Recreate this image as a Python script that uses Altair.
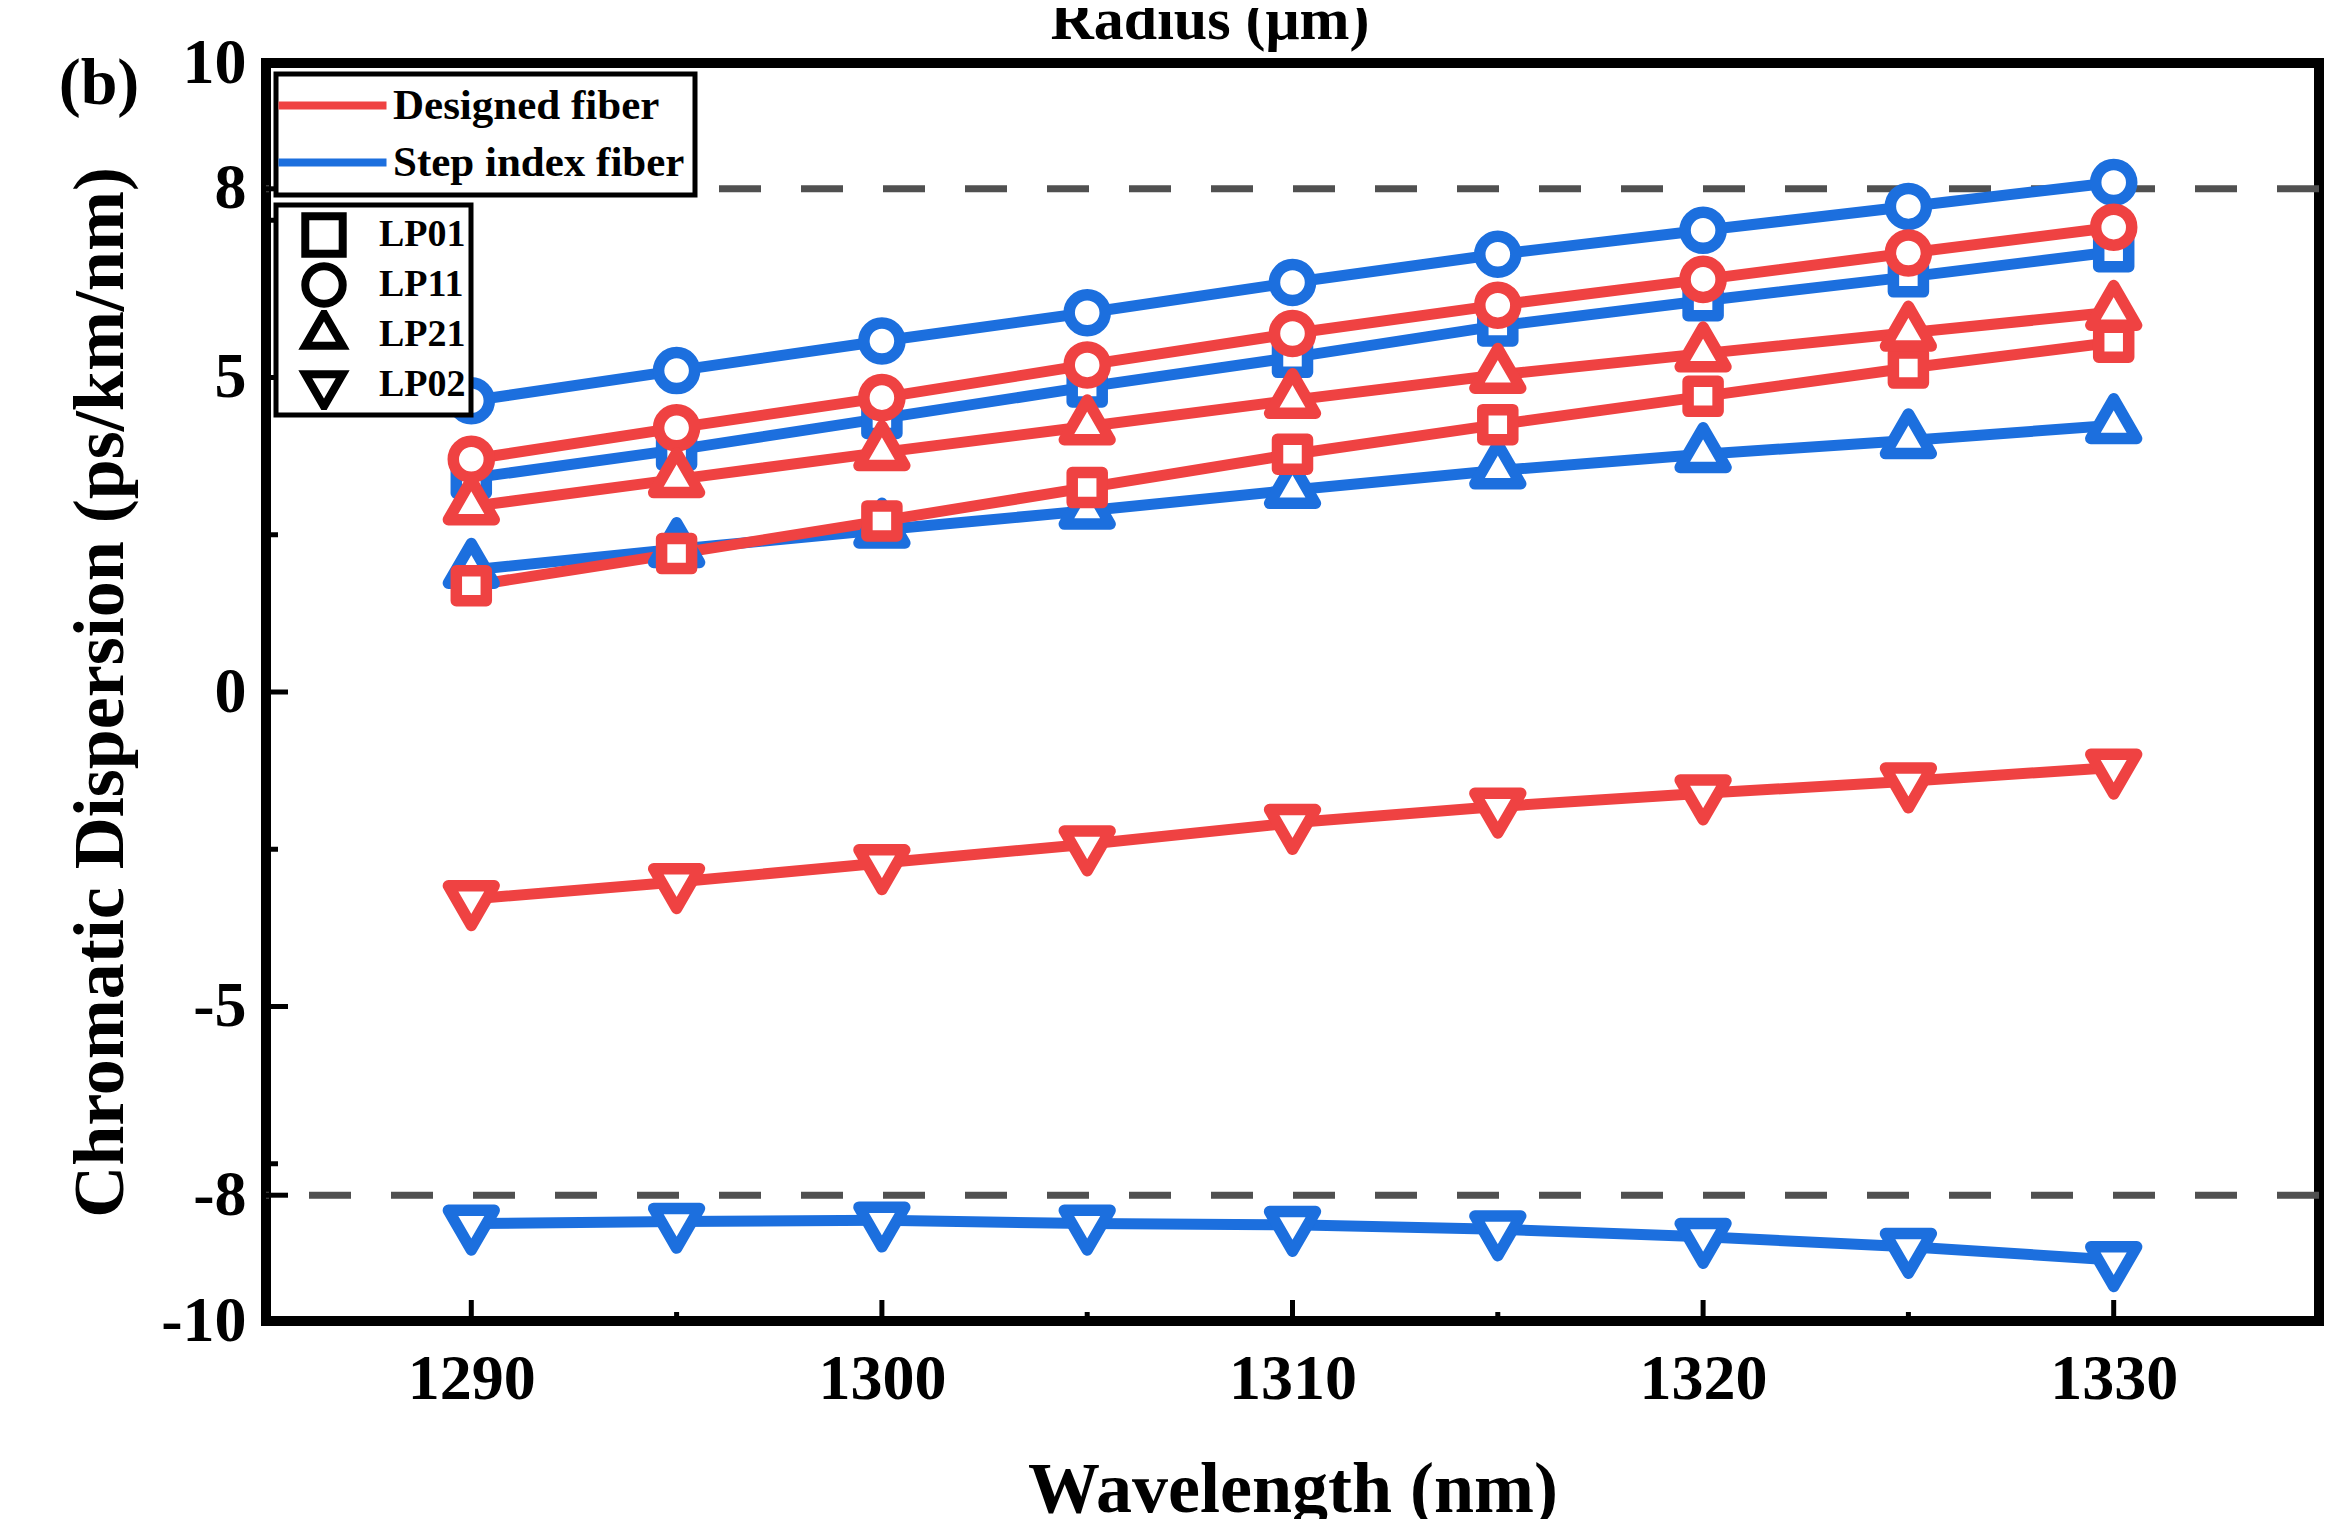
import altair as alt
import pandas as pd

FONT = "Liberation Serif"

wavelengths = [1290, 1295, 1300, 1305, 1310, 1315, 1320, 1325, 1330]
series_names = ["Designed fiber", "Step index fiber"]
mode_names = ["LP01", "LP11", "LP21", "LP02"]

designed_lp01 = [1.69, 2.20, 2.72, 3.25, 3.78, 4.25, 4.70, 5.15, 5.56]
designed_lp11 = [3.70, 4.20, 4.68, 5.20, 5.70, 6.15, 6.56, 6.98, 7.39]
designed_lp21 = [2.95, 3.38, 3.81, 4.22, 4.64, 5.04, 5.38, 5.71, 6.04]
designed_lp02 = [-3.29, -3.02, -2.72, -2.42, -2.08, -1.82, -1.61, -1.42, -1.20]

step_lp01 = [3.40, 3.85, 4.35, 4.85, 5.32, 5.82, 6.22, 6.60, 7.00]
step_lp11 = [4.63, 5.11, 5.58, 6.03, 6.51, 6.96, 7.34, 7.72, 8.10]
step_lp21 = [1.94, 2.27, 2.58, 2.88, 3.21, 3.52, 3.78, 4.00, 4.24]
step_lp02 = [-8.45, -8.42, -8.40, -8.45, -8.47, -8.54, -8.66, -8.82, -9.03]

limit_lines = [8, -8]
y_tick_labels = [-10, -8, -5, 0, 5, 8, 10]
y_minor_ticks = [-7.5, -2.5, 2.5, 7.5]
x_tick_labels = [1290, 1300, 1310, 1320, 1330]
x_minor_ticks = [1295, 1305, 1315, 1325]

series_colors = ["#EF4242", "#1C6FDE"]

rows = []
for sname, modes in [
    ("Step index fiber", [step_lp01, step_lp11, step_lp21, step_lp02]),
    ("Designed fiber", [designed_lp01, designed_lp11, designed_lp21, designed_lp02]),
]:
    for mname, vals in zip(mode_names, modes):
        for w, v in zip(wavelengths, vals):
            rows.append({"series": sname, "mode": mname, "wl": w, "cd": v})
df = pd.DataFrame(rows)

W, H = 2053, 1258
xscale = alt.Scale(domain=[1285, 1335], nice=False, zero=False)
yscale = alt.Scale(domain=[-10, 10], nice=False, zero=False)

TRI_UP = "M0,-1.155L1,0.577L-1,0.577Z"
TRI_DOWN = "M0,1.155L1,-0.577L-1,-0.577Z"
shape_paths = ["square", "circle", TRI_UP, TRI_DOWN]

x_axis = alt.Axis(values=x_tick_labels, labelExpr="'' + datum.value", ticks=False, domain=False,
                  grid=False, labelFont=FONT, labelFontSize=64, labelFontWeight="bold",
                  labelColor="black", labelPadding=26, title="Wavelength (nm)", titleFont=FONT,
                  titleFontSize=72, titleFontWeight="bold", titleColor="black", titleY=168,
                  titleBaseline="middle")
y_axis = alt.Axis(values=y_tick_labels, labelExpr="'' + datum.value", ticks=False, domain=False,
                  grid=False, labelFont=FONT, labelFontSize=64, labelFontWeight="bold",
                  labelColor="black", labelPadding=20, title="Chromatic Dispersion (ps/km/nm)",
                  titleFont=FONT, titleFontSize=72, titleFontWeight="bold", titleColor="black",
                  titleX=-166, titleY=H / 2, titleBaseline="middle", titleAlign="center")

color_legend = alt.Legend(title=None, orient="none", legendX=10, legendY=11, direction="vertical",
                          symbolType="M-2.9,0L7.9,0", symbolSize=400, symbolStrokeWidth=8,
                          labelFont=FONT, labelFontSize=43, labelFontWeight="bold",
                          labelColor="black", labelLimit=0, fillColor="white",
                          strokeColor="black", padding=10, rowPadding=13, labelOffset=64)
shape_legend = alt.Legend(title=None, orient="none", legendX=10, legendY=142, direction="vertical",
                          symbolSize=1400, symbolStrokeWidth=8, symbolStrokeColor="black",
                          symbolFillColor="white", symbolOpacity=1, labelFont=FONT,
                          labelFontSize=38, labelFontWeight="bold", labelColor="black",
                          labelLimit=0, fillColor="white", strokeColor="black", padding=5,
                          rowPadding=0, clipHeight=50, symbolOffset=20, labelOffset=32)

X = lambda f: alt.X(f, scale=xscale, axis=x_axis)
Y = lambda f: alt.Y(f, scale=yscale, axis=y_axis)

dashed = alt.Chart(pd.DataFrame({"v": limit_lines})).mark_rule(
    color="#505050", strokeWidth=7, strokeDash=[42, 40]
).encode(y=Y("v:Q"))

lines = alt.Chart(df).mark_line(strokeWidth=11).encode(
    x=X("wl:Q"),
    y=Y("cd:Q"),
    color=alt.Color("series:N", scale=alt.Scale(domain=series_names, range=series_colors),
                    legend=color_legend),
    detail="mode:N",
    order="wl:Q",
)

# invisible layer that only carries the mode (shape) legend
legend_source = alt.Chart(df).mark_point(filled=False, color="black", opacity=0,
                                         strokeWidth=8, size=1400).encode(
    x=X("wl:Q"),
    y=Y("cd:Q"),
    shape=alt.Shape("mode:N", scale=alt.Scale(domain=mode_names, range=shape_paths),
                    legend=shape_legend),
)

points = alt.Chart(df).transform_calculate(msz="datum.mode").mark_point(
    filled=True, fill="white", opacity=1, strokeJoin="round").encode(
    x=X("wl:Q"),
    y=Y("cd:Q"),
    stroke=alt.Stroke("series:N", scale=alt.Scale(domain=series_names[::-1],
                                                  range=series_colors[::-1]),
                      legend=None),
    strokeWidth=alt.value(11.5),
    shape=alt.Shape("mode:N", scale=alt.Scale(domain=mode_names[::-1],
                                              range=shape_paths[::-1]),
                    legend=None),
    size=alt.Size("msz:N", scale=alt.Scale(type="ordinal", domain=mode_names[::-1],
                                           range=[2100, 2100, 1300, 900]),
                  legend=None),
)

y_major = alt.Chart(pd.DataFrame({"v": y_tick_labels})).mark_rule(
    color="black", strokeWidth=5).encode(y=Y("v:Q"), x=alt.value(0), x2=alt.value(22))
y_minor = alt.Chart(pd.DataFrame({"v": y_minor_ticks})).mark_rule(
    color="black", strokeWidth=5).encode(y=Y("v:Q"), x=alt.value(0), x2=alt.value(12))
x_major = alt.Chart(pd.DataFrame({"v": x_tick_labels})).mark_rule(
    color="black", strokeWidth=5).encode(x=X("v:Q"), y=alt.value(H), y2=alt.value(H - 21))
x_minor = alt.Chart(pd.DataFrame({"v": x_minor_ticks})).mark_rule(
    color="black", strokeWidth=5).encode(x=X("v:Q"), y=alt.value(H), y2=alt.value(H - 9))

panel_label = alt.Chart(pd.DataFrame({"t": ["(b)"]})).mark_text(
    font=FONT, fontSize=66, fontWeight="bold", color="black", align="center",
    baseline="middle").encode(text="t:N", x=alt.value(-167), y=alt.value(21))

top_label = alt.Chart(pd.DataFrame({"t": ["Radius (μm)"]})).mark_text(
    font=FONT, fontSize=60, fontWeight="bold", color="black", align="center",
    baseline="alphabetic").encode(text="t:N", x=alt.value(944), y=alt.value(-24))

chart = alt.layer(dashed, lines, legend_source, points, y_major, y_minor, x_major, x_minor,
                  panel_label, top_label).resolve_scale(shape="independent").properties(
    width=W, height=H,
    autosize=alt.AutoSizeParams(type="none"),
    padding={"left": 258, "top": 55, "right": 14, "bottom": 198},
).configure_view(stroke="black", strokeWidth=10).configure_legend(strokeWidth=5)

chart.save("out.html", embed_options={"renderer": "svg", "actions": False})
